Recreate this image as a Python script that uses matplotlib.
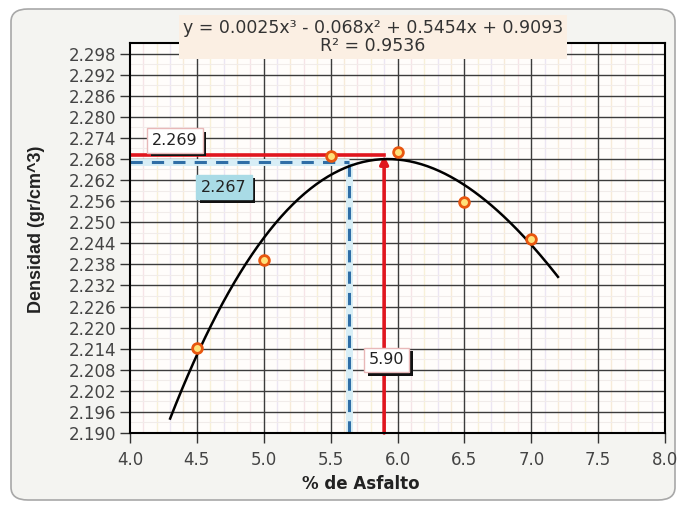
import numpy as np
import matplotlib
matplotlib.use("Agg")
import matplotlib.pyplot as plt
import matplotlib.patheffects as pe
from matplotlib.patches import FancyBboxPatch
from matplotlib.ticker import MultipleLocator, FormatStrFormatter

plt.rcParams["font.family"] = ["DejaVu Sans"]

# Ensayo Marshall: densidad vs contenido de asfalto
asfalto = [4.5, 5.0, 5.5, 6.0, 6.5, 7.0]
densidad = [2.2142, 2.2391, 2.2687, 2.2701, 2.2557, 2.2453]

ecuacion = "y = 0.0025x³ - 0.068x² + 0.5454x + 0.9093"
r2_texto = "R² = 0.9536"

optimo_asfalto = 5.90
optimo_densidad = 2.269
diseno_asfalto = 5.64
diseno_densidad = 2.267

x_min, x_max = 4.0, 8.0
y_min, y_max = 2.190, 2.301
y_ticks = np.round(np.arange(2.190, 2.2985, 0.006), 3)

fig = plt.figure(figsize=(6.79, 5.08), dpi=100)
fig.patch.set_facecolor("white")

# rounded chart-area frame
frame = FancyBboxPatch((11 / 679, 8 / 508), 664 / 679, 491 / 508,
                       boxstyle="round,pad=0,rounding_size=0.025",
                       transform=fig.transFigure, facecolor="#f4f4f1",
                       edgecolor="#a8a8a8", linewidth=1.2, zorder=-10)
fig.patches.append(frame)

ax = fig.add_axes([130 / 679, 1 - 433 / 508, 535 / 679, 390 / 508])
ax.set_zorder(1)
ax.set_facecolor("#fffdfb")
ax.set_xlim(x_min, x_max)
ax.set_ylim(y_min, y_max)

# minor vertical grid in soft pastel tones
minor_cols = ["#f6e4e7", "#f8f1d8", "#ece6f3", "#f7ebd9"]
for i, xv in enumerate(np.arange(4.1, 8.0, 0.1)):
    if abs(round(xv * 2) - xv * 2) < 1e-6:
        continue
    ax.axvline(xv, color=minor_cols[i % 4], lw=1.0, zorder=1)
for yv in np.arange(2.193, 2.301, 0.006):
    ax.axhline(yv, color="#f1ecea", lw=0.8, zorder=1)

# major grid
for xv in np.arange(4.5, 8.0, 0.5):
    ax.axvline(xv, color="#3c3c3c", lw=1.0, zorder=2)
for yv in y_ticks[1:]:
    ax.axhline(yv, color="#3c3c3c", lw=1.0, zorder=2)

ax.xaxis.set_major_locator(MultipleLocator(0.5))
ax.xaxis.set_major_formatter(FormatStrFormatter("%.1f"))
ax.set_yticks(y_ticks)
ax.yaxis.set_major_formatter(FormatStrFormatter("%.3f"))
ax.tick_params(axis="both", direction="out", length=7, width=1.0,
               color="#333333", labelsize=12, labelcolor="#444444")
ax.tick_params(axis="y", pad=3)
ax.tick_params(axis="x", pad=6)
for sp in ax.spines.values():
    sp.set_color("black")
    sp.set_linewidth(1.5)
    sp.set_zorder(6)

# polynomial trendline (order 3)
coef = np.polyfit(asfalto, densidad, 3)
xs = np.linspace(4.3, 7.2, 200)
ax.plot(xs, np.polyval(coef, xs), color="black", lw=1.8, zorder=4)

# design lines
ax.plot([x_min, diseno_asfalto], [diseno_densidad] * 2, color="#d8eef6",
        lw=5, zorder=3, solid_capstyle="butt")
ax.plot([diseno_asfalto] * 2, [y_min, diseno_densidad], color="#d8eef6",
        lw=5, zorder=3, solid_capstyle="butt")
ax.plot([x_min, diseno_asfalto], [diseno_densidad] * 2, color="#2f6ea6",
        lw=2.2, ls=(0, (4, 3)), zorder=3)
ax.plot([diseno_asfalto] * 2, [y_min, diseno_densidad], color="#2f6ea6",
        lw=2.2, ls=(0, (4, 3)), zorder=3)

ax.plot([x_min, optimo_asfalto], [optimo_densidad] * 2, color="#e0161e",
        lw=2.6, zorder=3)
ax.annotate("", xy=(optimo_asfalto, optimo_densidad),
            xytext=(optimo_asfalto, y_min),
            arrowprops=dict(arrowstyle="-|>", color="#e0161e", lw=2.6,
                            mutation_scale=12, shrinkA=0, shrinkB=0),
            zorder=3)

ax.plot(asfalto, densidad, "o", ms=7, mfc="#ffe27a", mec="#e8560f",
        mew=2.0, zorder=5)


def value_box(x, y, text, face, edge):
    t = ax.text(x, y, text, fontsize=11.5, color="#222222", ha="center",
                va="center", zorder=8,
                bbox=dict(boxstyle="square,pad=0.3", facecolor=face,
                          edgecolor=edge, linewidth=1.0))
    t.get_bbox_patch().set_path_effects([
        pe.SimplePatchShadow(offset=(2.5, -2.5), shadow_rgbFace="#111111",
                             alpha=1.0),
        pe.Normal()])


value_box(4.336, 2.2733, f"{optimo_densidad:.3f}", "white", "#e8b8b8")
value_box(4.703, 2.2600, f"{diseno_densidad:.3f}", "#a9dbe6", "#a9dbe6")
value_box(5.92, 2.2108, f"{optimo_asfalto:.2f}", "white", "#e8b8b8")

# trendline equation
fig.text(373 / 679, 1 - 37 / 508, ecuacion + "\n" + r2_texto,
         ha="center", va="center", fontsize=12.5, color="#333333",
         linespacing=1.0, zorder=9,
         bbox=dict(boxstyle="square,pad=0.25", facecolor="#fbefe3",
                   edgecolor="none"))

fig.text(361 / 679, 1 - 484 / 508, "% de Asfalto", ha="center", va="center",
         fontsize=12, fontweight="bold", color="#222222")
fig.text(37 / 679, 1 - 229 / 508, "Densidad (gr/cm^3)", ha="center",
         va="center", rotation=90, fontsize=13, fontweight="bold",
         color="#222222", family=["Liberation Sans", "DejaVu Sans"])

fig.savefig("out.png", dpi=100)
